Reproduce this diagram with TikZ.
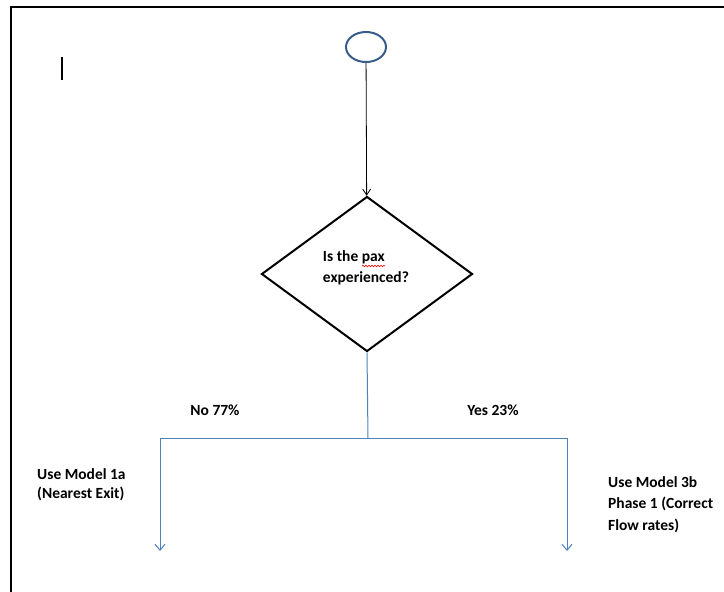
\documentclass[tikz,border=0pt]{standalone}
\usepackage{fontspec}
\setmainfont{Carlito}
\usetikzlibrary{shapes.geometric,arrows.meta,decorations.pathmorphing}
\definecolor{flowblue}{RGB}{79,129,189}
\definecolor{ringblue}{RGB}{56,93,138}

\begin{document}
\begin{tikzpicture}[x=1pt, y=-1pt,
    lbl/.style={font=\bfseries\fontsize{15.5}{21}\selectfont, align=left, inner sep=0pt},
    branch/.style={flowblue, line width=1pt, -{Straight Barb[length=6pt,width=10pt]}},
  ]
	\useasboundingbox (0,0) rectangle (724,592);
	\draw[line width=2.5pt] (11,592) -- (11,7) -- (724,7);
	\draw[line width=1.5pt] (62,57) -- (62,80);
	%
	\node[ellipse, draw=ringblue, line width=2pt, minimum width=40, minimum height=30, inner sep=0pt] (start) at (366,47) {};
	\node[diamond, draw, line width=2pt, minimum width=211, minimum height=155, inner sep=0pt] (ask) at (367,274) {};
	\node[lbl] (asktext) at (366,268) {Is the pax\\experienced?};
	\draw[red, line width=0.6pt, decorate, decoration={snake, amplitude=0.8pt, segment length=3pt}] (362,266) -- (385,266);
	%
	\coordinate (split) at (368,438);
	\coordinate (noend) at (160,551);
	\coordinate (yesend) at (567,551);
	\draw[-{Straight Barb[length=6pt,width=8pt]}, line width=0.8pt] (start) -- (ask);
	\draw[flowblue, line width=1pt] (ask.south) -- (split);
	\draw[branch] (split) -| (noend);
	\draw[branch] (split) -| (yesend);
	%
	\node[lbl] (nolbl) at (215,410) {No 77\%};
	\node[lbl] (yeslbl) at (493,410) {Yes 23\%};
	\node[lbl, anchor=west, font=\bfseries\fontsize{15.5}{19}\selectfont] (model1a) at (37,484.5) {Use Model 1a\\(Nearest Exit)};
	\node[lbl, anchor=west, font=\bfseries\fontsize{15.5}{21.5}\selectfont] (model3b) at (608,504.5) {Use Model 3b\\Phase 1 (Correct\\Flow rates)};
\end{tikzpicture}
\end{document}
